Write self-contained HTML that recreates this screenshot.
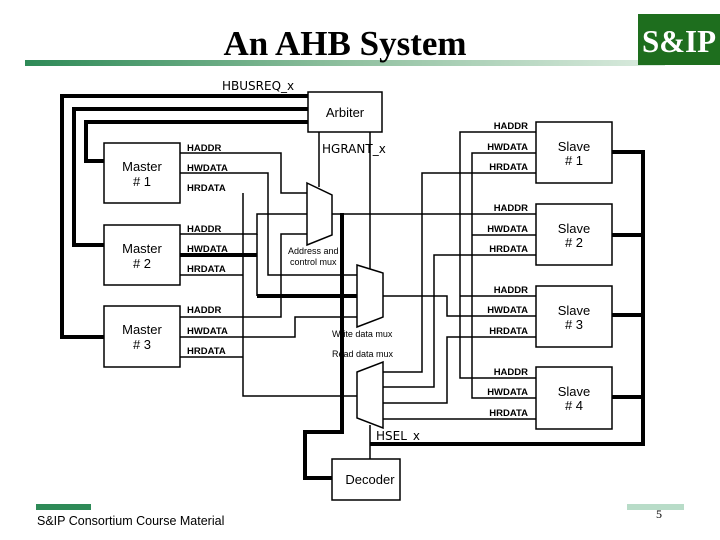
<!DOCTYPE html>
<html><head><meta charset="utf-8"><style>
html,body{margin:0;padding:0;background:#fff;}
body{width:720px;height:540px;overflow:hidden;position:relative;}
svg{position:absolute;left:0;top:0;}
</style></head><body>
<svg width="720" height="540" viewBox="0 0 720 540" xmlns="http://www.w3.org/2000/svg">
<defs>
<linearGradient id="g" x1="0" x2="1" y1="0" y2="0">
<stop offset="0" stop-color="#2e8a57"/><stop offset="0.5" stop-color="#8fc09f"/><stop offset="1" stop-color="#dcece0"/>
</linearGradient>
</defs>
<rect x="25" y="60" width="640" height="6" fill="url(#g)"/>
<rect x="638" y="14" width="82" height="51" fill="#1e6e1e"/>
<text x="642" y="52" font-family="Liberation Serif, serif" font-weight="bold" font-size="32" fill="#fff" textLength="74" lengthAdjust="spacingAndGlyphs">S&amp;IP</text>
<text x="345" y="55" font-family="Liberation Serif, serif" font-weight="bold" font-size="35" text-anchor="middle">An AHB System</text>
<text x="222" y="90" font-family="DejaVu Sans, sans-serif" font-size="12">HBUSREQ_x</text>

<g fill="none" stroke="#000">
<g stroke-width="1.5">
<rect x="308" y="92" width="74" height="40" fill="#fff"/>
<rect x="104" y="143" width="76" height="60"/>
<rect x="104" y="225" width="76" height="60"/>
<rect x="104" y="306" width="76" height="61"/>
<rect x="536" y="122" width="76" height="61"/>
<rect x="536" y="204" width="76" height="61"/>
<rect x="536" y="286" width="76" height="61"/>
<rect x="536" y="367" width="76" height="62"/>
<rect x="332" y="459" width="68" height="41"/>
<polygon points="307,183 332,195 332,235 307,245" fill="#fff"/>
<polygon points="357,265 383,273 383,317 357,327" fill="#fff"/>
<polygon points="357,372 383,362 383,428 357,418" fill="#fff"/>
</g>
<g stroke-width="4">
<polyline points="308,96 62,96 62,337 104,337"/>
<polyline points="308,109 74,109 74,245 104,245"/>
<polyline points="308,122 86,122 86,161 104,161"/>
<line x1="180" y1="255" x2="257" y2="255"/>
<line x1="257" y1="296" x2="357" y2="296"/>
<polyline points="342,213 342,432 305,432 305,478 332,478"/>
<polyline points="370,444 643,444 643,152 612,152"/>
<line x1="612" y1="235" x2="643" y2="235"/>
<line x1="612" y1="315" x2="643" y2="315"/>
<line x1="612" y1="397" x2="643" y2="397"/>
</g>
<g stroke-width="1.5">
<line x1="319" y1="132" x2="319" y2="187"/>
<line x1="370" y1="132" x2="370" y2="269"/>
<line x1="370" y1="425" x2="370" y2="459"/>
<polyline points="180,153 281,153 281,193 307,193"/>
<polyline points="180,173 268,173 268,275 357,275"/>
<polyline points="180,234 257,234 257,214 307,214"/>
<line x1="257" y1="234" x2="257" y2="296"/>
<polyline points="180,317 281,317 281,234 307,234"/>
<polyline points="180,337 295,337 295,317 357,317"/>
<polyline points="243,193 243,396 357,396"/>
<line x1="180" y1="275" x2="243" y2="275"/>
<line x1="180" y1="357" x2="243" y2="357"/>
<line x1="332" y1="214" x2="536" y2="214"/>
<polyline points="536,132 460,132 460,378 536,378"/>
<line x1="460" y1="296" x2="536" y2="296"/>
<polyline points="536,153 472,153 472,398 536,398"/>
<line x1="472" y1="235" x2="536" y2="235"/>
<polyline points="383,296 447,296 447,316 536,316"/>
<polyline points="536,173 422,173 422,372 383,372"/>
<polyline points="536,255 434,255 434,387 383,387"/>
<polyline points="536,337 447,337 447,403 383,403"/>
<line x1="536" y1="419" x2="383" y2="419"/>
</g>
</g>

<g font-family="Liberation Sans, sans-serif" font-size="13" text-anchor="middle">
<text x="345" y="117">Arbiter</text>
<text x="142" y="171">Master</text><text x="142" y="186"># 1</text>
<text x="142" y="253">Master</text><text x="142" y="268"># 2</text>
<text x="142" y="334">Master</text><text x="142" y="349"># 3</text>
<text x="574" y="151">Slave</text><text x="574" y="165"># 1</text>
<text x="574" y="233">Slave</text><text x="574" y="247"># 2</text>
<text x="574" y="315">Slave</text><text x="574" y="329"># 3</text>
<text x="574" y="396">Slave</text><text x="574" y="410"># 4</text>
<text x="370" y="484">Decoder</text>
</g>
<g font-family="Liberation Sans, sans-serif" font-size="9.5" font-weight="bold">
<text x="187" y="151">HADDR</text><text x="187" y="171">HWDATA</text><text x="187" y="191">HRDATA</text>
<text x="187" y="232">HADDR</text><text x="187" y="252">HWDATA</text><text x="187" y="272">HRDATA</text>
<text x="187" y="313">HADDR</text><text x="187" y="334">HWDATA</text><text x="187" y="354">HRDATA</text>
</g>
<g font-family="Liberation Sans, sans-serif" font-size="9.5" font-weight="bold" text-anchor="end">
<text x="528" y="129">HADDR</text><text x="528" y="150">HWDATA</text><text x="528" y="170">HRDATA</text>
<text x="528" y="211">HADDR</text><text x="528" y="232">HWDATA</text><text x="528" y="252">HRDATA</text>
<text x="528" y="293">HADDR</text><text x="528" y="313">HWDATA</text><text x="528" y="334">HRDATA</text>
<text x="528" y="375">HADDR</text><text x="528" y="395">HWDATA</text><text x="528" y="416">HRDATA</text>
</g>
<g font-family="Liberation Sans, sans-serif" font-size="9">
<text x="288" y="254">Address and</text><text x="290" y="265">control mux</text>
<text x="332" y="337">Write data mux</text>
<text x="332" y="357">Read data mux</text>
</g>
<text x="322" y="153" font-family="DejaVu Sans, sans-serif" font-size="12">HGRANT_x</text>
<text x="376" y="440" font-family="DejaVu Sans, sans-serif" font-size="12">HSEL_x</text>

<rect x="36" y="504" width="55" height="6" fill="#2e8a57"/>
<text x="37" y="525" font-family="Liberation Sans, sans-serif" font-size="12.5">S&amp;IP Consortium Course Material</text>
<rect x="627" y="504" width="57" height="6" fill="#b8dcc8"/>
<text x="656" y="518" font-family="Liberation Serif, serif" font-size="12">5</text>
</svg>
</body></html>
